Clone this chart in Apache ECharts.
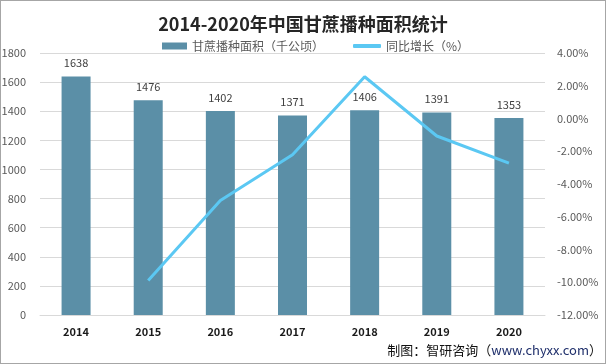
<!DOCTYPE html>
<html>
<head>
<meta charset="utf-8">
<script src="https://cdn.jsdelivr.net/npm/echarts@6/dist/echarts.min.js"></script>
<style>
html,body{margin:0;padding:0;background:#fff;}
#c{width:604px;height:362px;border:1px solid #a6a6a6;}
</style>
</head>
<body>
<div id="c"></div>
<script>
var categories = ['2014','2015','2016','2017','2018','2019','2020'];
var areaValues = [1638,1476,1402,1371,1406,1391,1353];
var growthValues = [null,-9.89,-5.01,-2.21,2.55,-1.07,-2.73];
var leftTicks = [0,200,400,600,800,1000,1200,1400,1600,1800];
var rightTicks = [-12,-10,-8,-6,-4,-2,0,2,4];

var chart = echarts.init(document.getElementById('c'), null, {renderer:'canvas'});
var fam = '"Microsoft YaHei","Noto Sans CJK SC","DejaVu Sans",sans-serif';
chart.setOption({
  animation:false,
  textStyle:{fontFamily:fam},
  title:{text:'2014-2020年中国甘蔗播种面积统计',left:'center',top:9,
    textStyle:{fontSize:18,fontWeight:'bold',color:'#262626',fontFamily:fam}},
  legend:[
    {top:34,left:156,itemWidth:25,itemHeight:7,itemGap:4,
     textStyle:{fontSize:12,color:'#595959'},
     data:[{name:'甘蔗播种面积（千公顷）',icon:'rect'}]},
    {top:34,left:347,itemWidth:28,itemHeight:4,
     textStyle:{fontSize:12,color:'#595959'},
     data:[{name:'同比增长（%）',icon:'roundRect'}]}
  ],
  grid:{left:39,right:60,top:52,bottom:48,containLabel:false,outerBoundsMode:'none'},
  xAxis:{type:'category',data:categories,
    axisLine:{lineStyle:{color:'#d9d9d9'}},axisTick:{show:false},
    axisLabel:{color:'#1a1a1a',fontWeight:'bold',fontSize:11,margin:11}},
  yAxis:[
    {type:'value',min:leftTicks[0],max:leftTicks[leftTicks.length-1],interval:200,
     axisLine:{show:false},axisTick:{show:false},
     axisLabel:{color:'#595959',fontSize:11,margin:14,formatter:function(v){return String(v);}},
     splitLine:{lineStyle:{color:'#d9d9d9'}}},
    {type:'value',min:rightTicks[0],max:rightTicks[rightTicks.length-1],interval:2,
     axisLine:{show:false},axisTick:{show:false},
     axisLabel:{color:'#595959',fontSize:11,margin:12,formatter:function(v){return v.toFixed(2)+'%';}},
     splitLine:{show:false}}
  ],
  series:[
    {name:'甘蔗播种面积（千公顷）',type:'bar',data:areaValues,barWidth:29,
     itemStyle:{color:'#5b8fa7'},
     label:{show:true,position:'top',color:'#404040',fontSize:11,distance:8}},
    {name:'同比增长（%）',type:'line',yAxisIndex:1,data:growthValues,
     symbol:'none',lineStyle:{color:'#5bc8f3',width:3},itemStyle:{color:'#5bc8f3'}}
  ],
  graphic:[{type:'text',right:3,top:343,
    style:{text:'{a|制图：智研咨询（}{b|www.chyxx.com}{a|）}',
      rich:{a:{fontSize:13,fill:'#111',fontFamily:fam},b:{fontSize:13,fill:'#1f2f6b',fontFamily:fam}}}}]
});
</script>
</body>
</html>
